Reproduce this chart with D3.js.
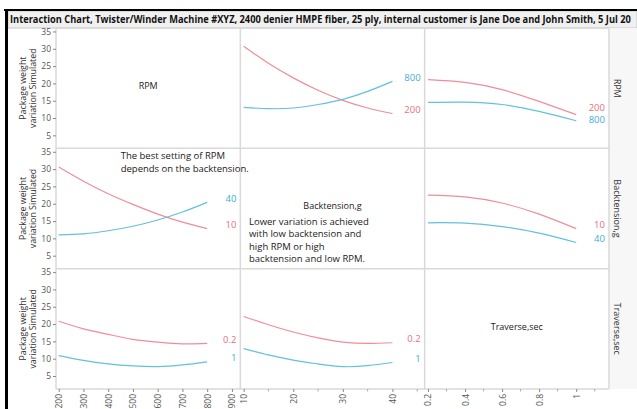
<!DOCTYPE html>
<html>
<head>
<meta charset="utf-8">
<script src="https://cdn.jsdelivr.net/npm/d3@7"></script>
<style>
  body { margin: 0; background: #fff; }
  text { font-family: "Open Sans", sans-serif; }
</style>
</head>
<body>
<script>
"use strict";
var title = "Interaction Chart, Twister/Winder Machine #XYZ, 2400 denier HMPE fiber, 25 ply, internal customer is Jane Doe and John Smith, 5 Jul 20";
var factors = ["RPM", "Backtension,g", "Traverse,sec"];
var levels = [["200", "800"], ["10", "40"], ["0.2", "1"]];

// x positions where the curves were read
var rpmX = [200, 300, 400, 500, 600, 700, 800];
var tensionX = [10, 15, 20, 25, 30, 35, 40];
var traverseX = [0.2, 0.4, 0.6, 0.8, 1];

// tick labels
var rpmTicks = [200, 300, 400, 500, 600, 700, 800, 900];
var tensionTicks = [10, 20, 30, 40];
var tensionMinor = [15, 25, 35, 45];
var traverseTicks = [0.2, 0.4, 0.6, 0.8, 1];
var traverseMinor = [0.3, 0.5, 0.7, 0.9, 1.1];
var yTicks = [5, 10, 15, 20, 25, 30, 35];

// RPM traces
var rpm200ByTension = [30.7, 25.8, 21.6, 18.0, 15.1, 12.9, 11.3];
var rpm800ByTension = [13.1, 12.7, 12.9, 13.9, 15.4, 17.7, 20.6];
var rpm200ByTraverse = [21.1, 20.3, 18.2, 14.8, 11.0];
var rpm800ByTraverse = [14.5, 14.6, 13.9, 11.9, 9.2];
// Backtension traces
var tension10ByRpm = [30.6, 26.5, 22.9, 19.8, 17.0, 14.7, 12.8];
var tension40ByRpm = [11.0, 11.3, 12.2, 13.5, 15.3, 17.6, 20.4];
var tension10ByTraverse = [22.5, 22.0, 20.2, 17.0, 12.8];
var tension40ByTraverse = [14.5, 14.4, 13.4, 11.5, 8.8];
// Traverse traces
var traverse02ByRpm = [20.8, 18.6, 17.0, 15.6, 14.8, 14.3, 14.4];
var traverse1ByRpm = [10.9, 9.5, 8.5, 7.9, 7.7, 8.2, 9.1];
var traverse02ByTension = [22.2, 19.8, 17.7, 16.0, 14.8, 14.4, 14.6];
var traverse1ByTension = [12.9, 11.1, 9.6, 8.5, 7.7, 8.0, 8.9];

var notes = [
  {x: 120.7, y: 159, lines: ["The best setting of RPM", "depends on the backtension."]},
  {x: 249, y: 224.5, lines: ["Lower variation is achieved", "with low backtension and", "high RPM or high", "backtension and low RPM."]}
];

var cells = [
  {row: 0, col: 1, xs: tensionX, lo: rpm200ByTension, hi: rpm800ByTension},
  {row: 0, col: 2, xs: traverseX, lo: rpm200ByTraverse, hi: rpm800ByTraverse},
  {row: 1, col: 0, xs: rpmX, lo: tension10ByRpm, hi: tension40ByRpm},
  {row: 1, col: 2, xs: traverseX, lo: tension10ByTraverse, hi: tension40ByTraverse},
  {row: 2, col: 0, xs: rpmX, lo: traverse02ByRpm, hi: traverse1ByRpm},
  {row: 2, col: 1, xs: tensionX, lo: traverse02ByTension, hi: traverse1ByTension}
];

draw();

function draw() {
  var width = 637, height = 409,
      left = 56, top = 28,
      colW = 184.33, rowH = 120.33,
      red = "#f08d99", blue = "#62c1db",
      redText = "#e8707d", blueText = "#44acd4";

  var svg = d3.select("body")
    .append("svg")
    .attr("width", width)
    .attr("height", height);

  // frame + title bar
  svg.append("rect").attr("x", 8).attr("y", 11).attr("width", width - 8).attr("height", top - 11)
    .attr("fill", "#f0f0f0").attr("stroke", "#c8c8c8");
  var tt = svg.append("text")
    .attr("x", 0).attr("y", 0)
    .style("font-size", "10.5px").style("font-weight", "bold").style("fill", "#111")
    .text(title);
  // squeeze the title into the bar width
  var sx = Math.min(1, 622 / tt.node().getComputedTextLength());
  tt.attr("transform", "translate(10,23) scale(" + sx + ",1)");
  svg.append("rect").attr("x", left + 3 * colW).attr("y", top).attr("width", width - left - 3 * colW).attr("height", 3 * rowH)
    .attr("fill", "#f7f7f7");
  svg.append("line").attr("x1", 4).attr("x2", width).attr("y1", 10).attr("y2", 10)
    .attr("stroke", "#000").attr("stroke-width", 2);
  svg.append("line").attr("x1", 6.5).attr("x2", 6.5).attr("y1", 9).attr("y2", height)
    .attr("stroke", "#000").attr("stroke-width", 3);

  var xScales = [
    d3.scaleLinear().domain([189, 934]),
    d3.scaleLinear().domain([9.33, 46.5]),
    d3.scaleLinear().domain([0.182, 1.177])
  ];
  xScales.forEach(function(s, i) { s.range([left + i * colW, left + (i + 1) * colW]); });
  var yScales = [0, 1, 2].map(function(r) {
    return d3.scaleLinear().domain([1.25, 36]).range([top + (r + 1) * rowH, top + r * rowH]);
  });

  // panel borders
  var grid = svg.append("g").attr("stroke", "#d9d9d9").attr("stroke-width", 1.5);
  [0, 1, 2, 3].forEach(function(i) {
    grid.append("line").attr("x1", left + i * colW).attr("x2", left + i * colW)
      .attr("y1", top).attr("y2", top + 3 * rowH);
    grid.append("line").attr("x1", left).attr("x2", left + 3 * colW)
      .attr("y1", top + i * rowH).attr("y2", top + i * rowH);
  });

  // y axes
  yScales.forEach(function(y, r) {
    var g = svg.append("g").attr("transform", "translate(" + left + ",0)")
      .call(d3.axisLeft(y).tickValues(yTicks).tickSize(3).tickPadding(2));
    g.select(".domain").remove();
    g.selectAll("line").attr("stroke", "#888");
    g.selectAll("text").style("font-size", "8.5px").style("fill", "#555").style("font-family", "Open Sans");
    var cy = top + r * rowH + rowH / 2;
    svg.append("text")
      .attr("transform", "translate(25.5," + cy + ") rotate(-90)")
      .style("text-anchor", "middle").style("font-size", "8.8px").style("fill", "#333")
      .text("Package weight");
    svg.append("text")
      .attr("transform", "translate(36," + cy + ") rotate(-90)")
      .style("text-anchor", "middle").style("font-size", "8.8px").style("fill", "#333")
      .text("variation Simulated");
    svg.append("text")
      .attr("transform", "translate(614," + cy + ") rotate(90)")
      .style("text-anchor", "middle").style("font-size", "9px").style("fill", "#333")
      .text(factors[r]);
  });

  // x axes
  var bottom = top + 3 * rowH;
  var majors = [rpmTicks, tensionTicks, traverseTicks],
      minors = [[], tensionMinor, traverseMinor];
  xScales.forEach(function(x, c) {
    var g = svg.append("g").attr("transform", "translate(0," + bottom + ")")
      .call(d3.axisBottom(x).tickValues(majors[c]).tickSize(3).tickFormat(d3.format("~g")));
    g.select(".domain").remove();
    g.selectAll("line").attr("stroke", "#888");
    g.selectAll("text")
      .attr("transform", "rotate(-90)")
      .attr("x", -5).attr("y", 0).attr("dy", "0.35em")
      .style("text-anchor", "end").style("font-size", "8.5px").style("fill", "#555").style("font-family", "Open Sans");
    g.selectAll(".minor").data(minors[c]).enter().append("line")
      .attr("x1", x).attr("x2", x).attr("y1", 0).attr("y2", 2.5).attr("stroke", "#aaa");
  });

  // diagonal labels
  [0, 1, 2].forEach(function(i) {
    svg.append("text")
      .attr("x", left + i * colW + colW / 2)
      .attr("y", top + i * rowH + rowH / 2)
      .attr("dy", "0.1em")
      .style("text-anchor", "middle").style("font-size", "9px").style("fill", "#222")
      .text(factors[i]);
  });

  // interaction curves
  cells.forEach(function(cell) {
    var x = xScales[cell.col], y = yScales[cell.row];
    var line = d3.line()
      .x(function(d) { return x(d[0]); })
      .y(function(d) { return y(d[1]); })
      .curve(d3.curveNatural);
    var series = [
      {vals: cell.lo, color: red, tc: redText, label: levels[cell.row][0]},
      {vals: cell.hi, color: blue, tc: blueText, label: levels[cell.row][1]}
    ];
    series.forEach(function(s) {
      svg.append("path")
        .datum(cell.xs.map(function(v, i) { return [v, s.vals[i]]; }))
        .attr("d", line)
        .attr("fill", "none").attr("stroke", s.color).attr("stroke-width", 1.2);
      s.ly = y(s.vals[s.vals.length - 1]) - 4;
    });
    // keep labels apart
    var a = series[0], b = series[1];
    if (Math.abs(a.ly - b.ly) < 12) {
      var mid = (a.ly + b.ly) / 2, sign = a.ly < b.ly ? -1 : 1;
      a.ly = mid + sign * 6; b.ly = mid - sign * 6;
    }
    series.forEach(function(s) {
      svg.append("text")
        .attr("x", left + (cell.col + 1) * colW - 4)
        .attr("y", s.ly).attr("dy", "0.35em")
        .style("text-anchor", "end").style("font-size", "9.5px").style("fill", s.tc)
        .text(s.label);
    });
  });

  // notes
  notes.forEach(function(n) {
    var t = svg.append("text").attr("x", n.x).attr("y", n.y)
      .style("font-size", "9.5px").style("fill", "#222");
    n.lines.forEach(function(l, i) {
      t.append("tspan").attr("x", n.x).attr("dy", i ? "1.32em" : 0).text(l);
    });
  });
}
</script>
</body>
</html>
